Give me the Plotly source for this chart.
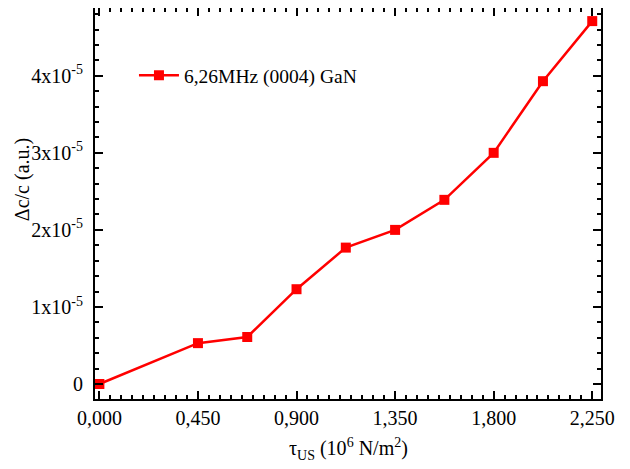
import plotly.graph_objects as go

x_vals = [0, 0.45, 0.675, 0.9, 1.125, 1.35, 1.575, 1.8, 2.025, 2.25]
y_vals = [0, 0.53e-5, 0.61e-5, 1.23e-5, 1.77e-5, 2.0e-5, 2.39e-5, 3.0e-5, 3.93e-5, 4.71e-5]
series_name = "6,26MHz (0004) GaN"

x_tickvals = [0, 0.45, 0.9, 1.35, 1.8, 2.25]
x_ticktext = ["0,000", "0,450", "0,900", "1,350", "1,800", "2,250"]
y_tickvals = [0, 1e-5, 2e-5, 3e-5, 4e-5]
y_ticktext = ["0", "1x10<sup>-5</sup>", "2x10<sup>-5</sup>", "3x10<sup>-5</sup>", "4x10<sup>-5</sup>"]
x_title = "τ<sub>US</sub> (10<sup>6</sup> N/m<sup>2</sup>)"
y_title = "Δc/c (a.u.)"

font = "Liberation Serif, Times New Roman, serif"

fig = go.Figure()
fig.add_trace(go.Scatter(
    x=x_vals, y=y_vals, mode="lines+markers", name=series_name,
    line=dict(color="#ff0000", width=2.5),
    marker=dict(symbol="square", size=10, color="#ff0000"),
))

axis_common = dict(
    showline=True, linecolor="black", linewidth=2, mirror="allticks",
    ticks="inside", ticklen=8, tickwidth=2, tickcolor="black",
    showgrid=False, zeroline=False, automargin=False,
    tickfont=dict(family=font, size=20, color="black"),
)

fig.update_xaxes(
    range=[-0.02, 2.29], tickvals=x_tickvals, ticktext=x_ticktext,
    minor=dict(dtick=0.05, tick0=0, ticks="inside", ticklen=4, tickwidth=1.5, tickcolor="black"),
    **axis_common,
)
fig.update_yaxes(
    range=[-0.195e-5, 4.88e-5], tickvals=y_tickvals, ticktext=y_ticktext,
    minor=dict(dtick=0.2e-5, tick0=0, ticks="inside", ticklen=4, tickwidth=1.5, tickcolor="black"),
    ticklabelstandoff=6,
    **axis_common,
)

fig.add_annotation(
    text=y_title, xref="paper", yref="paper", x=-0.144, y=0.56,
    xanchor="center", yanchor="middle", textangle=-90, showarrow=False,
    font=dict(family=font, size=20, color="black"),
)
fig.add_annotation(
    text=x_title, xref="paper", yref="paper", x=0.5, y=-0.128,
    xanchor="center", yanchor="middle", showarrow=False,
    font=dict(family=font, size=20, color="black"),
)

fig.update_layout(
    width=630, height=469,
    margin=dict(l=87, r=37, t=0, b=78),
    paper_bgcolor="white", plot_bgcolor="white",
    showlegend=True,
    legend=dict(x=0.077, y=0.827, xanchor="left", yanchor="middle", itemwidth=40,
                bgcolor="rgba(0,0,0,0)", font=dict(family=font, size=19.5, color="black")),
    font=dict(family=font),
)

fig.write_html("out.html")
